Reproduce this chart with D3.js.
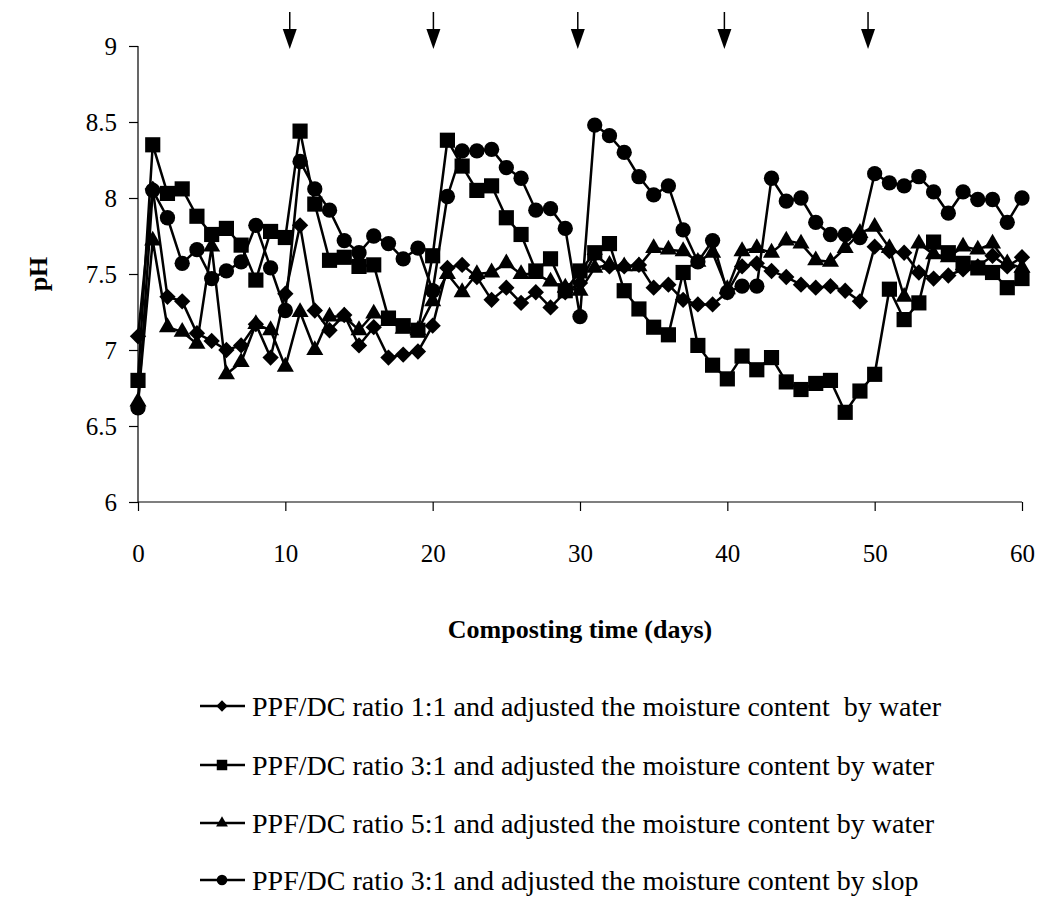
<!DOCTYPE html>
<html>
<head>
<meta charset="utf-8">
<script src="https://cdn.jsdelivr.net/npm/d3@7"></script>
<style>
  body { margin: 0; background: #fff; }
  svg text { font-family: "Liberation Serif", "Times New Roman", serif; fill: #000; }
</style>
</head>
<body>
<div id="chart"></div>
<script>
// composting days, 0 to 60
const days = d3.range(0, 61);

// pH readings per treatment
const ph11Water = [7.09, 8.06, 7.35, 7.32, 7.11, 7.06, 7.00, 7.03, 7.17, 6.95,
  7.37, 7.82, 7.26, 7.13, 7.23, 7.03, 7.15, 6.95, 6.97, 6.99,
  7.16, 7.54, 7.56, 7.48, 7.33, 7.41, 7.31, 7.38, 7.28, 7.38,
  7.44, 7.63, 7.55, 7.55, 7.56, 7.41, 7.43, 7.33, 7.30, 7.30,
  7.38, 7.55, 7.57, 7.52, 7.48, 7.43, 7.41, 7.42, 7.39, 7.32,
  7.68, 7.65, 7.64, 7.51, 7.47, 7.49, 7.53, 7.55, 7.62, 7.55, 7.61];

const ph31Water = [6.80, 8.35, 8.03, 8.06, 7.88, 7.76, 7.80, 7.69, 7.46, 7.78,
  7.74, 8.44, 7.96, 7.59, 7.61, 7.55, 7.56, 7.21, 7.16, 7.13,
  7.62, 8.38, 8.21, 8.05, 8.08, 7.87, 7.76, 7.52, 7.60, 7.39,
  7.52, 7.64, 7.70, 7.39, 7.27, 7.15, 7.10, 7.51, 7.03, 6.90,
  6.81, 6.96, 6.87, 6.95, 6.79, 6.74, 6.78, 6.80, 6.59, 6.73,
  6.84, 7.40, 7.20, 7.31, 7.71, 7.64, 7.57, 7.54, 7.51, 7.41, 7.47];

const ph51Water = [6.66, 7.72, 7.15, 7.12, 7.04, 7.68, 6.84, 6.92, 7.17, 7.13,
  6.89, 7.25, 7.00, 7.22, 7.22, 7.13, 7.24, 7.19, 7.14, 7.13,
  7.32, 7.50, 7.38, 7.50, 7.51, 7.57, 7.50, 7.50, 7.45, 7.41,
  7.39, 7.54, 7.56, 7.55, 7.55, 7.67, 7.66, 7.65, 7.58, 7.64,
  7.40, 7.65, 7.67, 7.64, 7.72, 7.70, 7.59, 7.58, 7.67, 7.77,
  7.81, 7.67, 7.35, 7.70, 7.63, 7.61, 7.68, 7.66, 7.70, 7.57, 7.54];

const ph31Slop = [6.62, 8.05, 7.87, 7.57, 7.66, 7.47, 7.52, 7.58, 7.82, 7.54,
  7.26, 8.24, 8.06, 7.92, 7.72, 7.64, 7.75, 7.70, 7.60, 7.67,
  7.39, 8.01, 8.31, 8.31, 8.32, 8.20, 8.13, 7.92, 7.93, 7.80,
  7.22, 8.48, 8.41, 8.30, 8.14, 8.02, 8.08, 7.79, 7.58, 7.72,
  7.38, 7.42, 7.42, 8.13, 7.98, 8.00, 7.84, 7.76, 7.76, 7.74,
  8.16, 8.10, 8.08, 8.14, 8.04, 7.90, 8.04, 7.99, 7.99, 7.84, 8.00];

const seriesNames = [
  "PPF/DC ratio 1:1 and adjusted the moisture content  by water",
  "PPF/DC ratio 3:1 and adjusted the moisture content by water",
  "PPF/DC ratio 5:1 and adjusted the moisture content by water",
  "PPF/DC ratio 3:1 and adjusted the moisture content by slop"
];
const seriesValues = [ph11Water, ph31Water, ph51Water, ph31Slop];
const seriesMarkers = ["diamond", "square", "triangle", "circle"];

const xTicks = [0, 10, 20, 30, 40, 50, 60];
const yTicks = [6, 6.5, 7, 7.5, 8, 8.5, 9];

// days on which the moisture was adjusted (arrows on top)
const arrowDays = [10.3, 20.05, 29.85, 39.8, 49.55];

const width = 1039, height = 910;
const plot = { left: 138, right: 1022, top: 46, bottom: 502 };

const svg = d3.select("#chart").append("svg")
  .attr("width", width)
  .attr("height", height);

const x = d3.scaleLinear().domain([0, 60]).range([plot.left, plot.right]);
const y = d3.scaleLinear().domain([6, 9]).range([plot.bottom, plot.top]);

// marker shapes, big for the plot and small for the legend
function markerPath(kind, s) {
  if (kind === "diamond") return d3.symbol(d3.symbolSquare, s * 0.58)();
  if (kind === "square") return d3.symbol(d3.symbolSquare, s)();
  if (kind === "triangle") return d3.symbol(d3.symbolTriangle, s * 0.55)();
  return d3.symbol(d3.symbolCircle, s * 0.8)();
}
function markerRotate(kind) { return kind === "diamond" ? " rotate(45)" : ""; }

// axes
const yAxis = svg.append("g")
  .attr("transform", `translate(${plot.left},0)`)
  .call(d3.axisLeft(y).tickValues(yTicks).tickFormat(d3.format("")).tickSize(9).tickPadding(12));
const xAxis = svg.append("g")
  .attr("transform", `translate(0,${plot.bottom})`)
  .call(d3.axisBottom(x).tickValues(xTicks).tickSize(9).tickPadding(33));

[xAxis, yAxis].forEach(g => {
  g.select(".domain").attr("stroke", "#000").attr("stroke-width", 1.2);
  g.selectAll(".tick line").attr("stroke", "#000").attr("stroke-width", 1.2);
  g.selectAll(".tick text").style("font-size", "25px").attr("fill", "#000");
});
yAxis.select(".domain").attr("d", `M0,${plot.top}V${plot.bottom}`);
xAxis.select(".domain").attr("d", `M${plot.left},0H${plot.right}`);
yAxis.selectAll(".tick text").attr("dy", "0.35em");

// axis titles
svg.append("text")
  .attr("x", (plot.left + plot.right) / 2)
  .attr("y", 638)
  .attr("text-anchor", "middle")
  .style("font-size", "26px")
  .style("font-weight", "bold")
  .text("Composting time (days)");

svg.append("text")
  .attr("transform", `translate(47,${(plot.top + plot.bottom) / 2}) rotate(-90)`)
  .attr("text-anchor", "middle")
  .style("font-size", "26px")
  .style("font-weight", "bold")
  .text("pH");

// arrows above the plot
const arrows = svg.append("g");
arrowDays.forEach(d => {
  const ax = x(d);
  arrows.append("line")
    .attr("x1", ax).attr("x2", ax)
    .attr("y1", 12).attr("y2", 32)
    .attr("stroke", "#000").attr("stroke-width", 1.5);
  arrows.append("path")
    .attr("d", `M${ax - 7},29 L${ax + 7},29 L${ax},49 Z`)
    .attr("fill", "#000");
});

// lines and markers
const line = d3.line()
  .x((d, i) => x(days[i]))
  .y(d => y(d));

seriesValues.forEach((vals, k) => {
  const g = svg.append("g");
  g.append("path")
    .datum(vals)
    .attr("d", line)
    .attr("fill", "none")
    .attr("stroke", "#000")
    .attr("stroke-width", 2.5);
  g.selectAll("path.mark")
    .data(vals)
    .enter().append("path")
    .attr("class", "mark")
    .attr("d", markerPath(seriesMarkers[k], 230))
    .attr("transform", (d, i) => `translate(${x(days[i])},${y(d)})` + markerRotate(seriesMarkers[k]))
    .attr("fill", "#000");
});

// legend
const legendRows = [706, 765, 823, 880];
const legend = svg.append("g");
seriesNames.forEach((name, k) => {
  const ly = legendRows[k];
  legend.append("line")
    .attr("x1", 200).attr("x2", 245)
    .attr("y1", ly).attr("y2", ly)
    .attr("stroke", "#000").attr("stroke-width", 2.5);
  legend.append("path")
    .attr("d", markerPath(seriesMarkers[k], 110))
    .attr("transform", `translate(222,${ly})` + markerRotate(seriesMarkers[k]))
    .attr("fill", "#000");
  legend.append("text")
    .attr("x", 252)
    .attr("y", ly)
    .attr("dy", "0.35em")
    .style("font-size", "28px")
    .style("white-space", "pre")
    .text(name);
});
</script>
</body>
</html>
